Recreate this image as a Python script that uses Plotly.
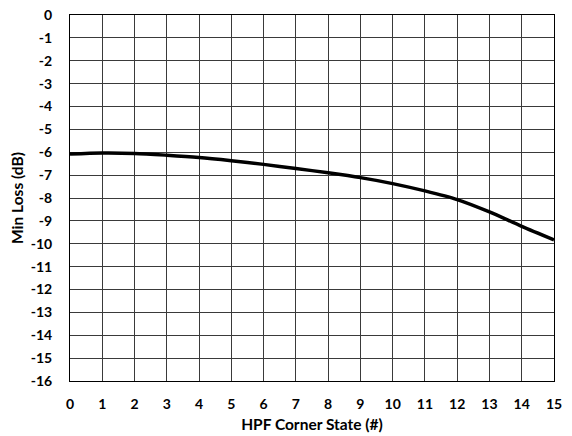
import plotly.graph_objects as go

states = [0, 1, 2, 3, 4, 5, 6, 7, 8, 9, 10, 11, 12, 13, 14, 15]
min_loss = [-6.08, -6.03, -6.05, -6.13, -6.23, -6.37, -6.53, -6.71, -6.9, -7.11, -7.37, -7.69, -8.07, -8.61, -9.24, -9.83]
y_ticks = list(range(0, -17, -1))
x_ticks = list(range(0, 16))

font_fam = "Lato, Liberation Sans, Arial, sans-serif"

fig = go.Figure()
fig.add_trace(go.Scatter(
    x=states, y=min_loss, mode="lines",
    line=dict(color="black", width=3.5, shape="spline", smoothing=0.8),
    showlegend=False,
))

fig.update_layout(
    width=572, height=436,
    margin=dict(l=70, r=18, t=15, b=55, autoexpand=False),
    paper_bgcolor="white", plot_bgcolor="white",
    font=dict(family=font_fam, size=14, color="black"),
)
fig.update_xaxes(
    range=[0, 15], tickvals=x_ticks, ticktext=[f"<b>{v}</b>" for v in x_ticks],
    showgrid=True, gridcolor="#3a3a3a", gridwidth=1,
    showline=True, linecolor="black", linewidth=1, mirror=True,
    ticks="outside", ticklen=10, tickcolor="rgba(0,0,0,0)",
    ticklabeloverflow="allow",
    zeroline=False, automargin=False,
    title=dict(text="<b>HPF Corner State (#)</b>", font=dict(size=15.5), standoff=8),
)
fig.update_yaxes(
    range=[-16, 0], tickvals=y_ticks, ticktext=[f"<b>{v}</b>" for v in y_ticks],
    showgrid=True, gridcolor="#3a3a3a", gridwidth=1,
    showline=True, linecolor="black", linewidth=1, mirror=True,
    ticks="outside", ticklen=14, tickcolor="rgba(0,0,0,0)",
    ticklabeloverflow="allow",
    zeroline=False, automargin=False,
    title=dict(text="<b>Min Loss (dB)</b>", font=dict(size=15.5), standoff=3),
)

fig.write_html(
    "out.html",
    config={"displayModeBar": False},
    post_script="document.body.style.margin='0';",
)
